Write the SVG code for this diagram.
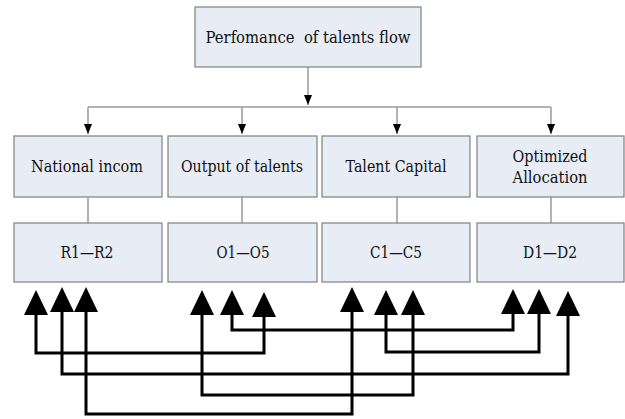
<svg xmlns="http://www.w3.org/2000/svg" width="625" height="419" viewBox="0 0 625 419">
<style>
.box{fill:#E8ECF5;stroke:#808080;stroke-width:1.2}
text{font-family:'DejaVu Serif','Liberation Serif',serif;font-size:16px;fill:#111;text-anchor:middle}
.thin{fill:none;stroke:#9a9a9a;stroke-width:1.5}
.big{fill:none;stroke:#000;stroke-width:3;stroke-linejoin:miter}
</style>
<defs>
<marker id="sm" viewBox="0 0 10 8" refX="10" refY="4" markerWidth="10" markerHeight="8" markerUnits="userSpaceOnUse" orient="auto">
<path d="M0,0 L10,4 L0,8 z" fill="#000"/>
</marker>
<marker id="bg" viewBox="0 0 25 24" refX="0" refY="12" markerWidth="25" markerHeight="24" markerUnits="userSpaceOnUse" orient="auto-start-reverse">
<path d="M0,0 L25,12 L0,24 z" fill="#000"/>
</marker>
</defs>
<g id="connectors">
<path class="thin" d="M308,67 V105" marker-end="url(#sm)"/>
<path class="thin" d="M88,107 H551"/>
<path class="thin" d="M88,107 V134" marker-end="url(#sm)"/>
<path class="thin" d="M242,107 V134" marker-end="url(#sm)"/>
<path class="thin" d="M397,107 V134" marker-end="url(#sm)"/>
<path class="thin" d="M551,107 V134" marker-end="url(#sm)"/>
<path class="thin" d="M88,197 V223"/>
<path class="thin" d="M242,197 V223"/>
<path class="thin" d="M397,197 V223"/>
<path class="thin" d="M551,197 V223"/>
<path class="big" d="M232,315 V330 H513 V314" marker-start="url(#bg)" marker-end="url(#bg)"/>
<path class="big" d="M36,315 V353 H264 V317" marker-start="url(#bg)" marker-end="url(#bg)"/>
<path class="big" d="M386,315 V352 H539 V314" marker-start="url(#bg)" marker-end="url(#bg)"/>
<path class="big" d="M62,312 V374 H568 V316" marker-start="url(#bg)" marker-end="url(#bg)"/>
<path class="big" d="M202,315 V395 H413 V315" marker-start="url(#bg)" marker-end="url(#bg)"/>
<path class="big" d="M86,312 V414 H352 V312" marker-start="url(#bg)" marker-end="url(#bg)"/>
</g>
<g id="top"><rect class="box" x="195" y="7" width="226" height="60"/><text x="308" y="43" textLength="205" lengthAdjust="spacingAndGlyphs">Perfomance&#160; of talents flow</text></g>
<g id="n1"><rect class="box" x="14" y="136" width="148" height="61"/><text x="87" y="172" textLength="112" lengthAdjust="spacingAndGlyphs">National incom</text></g>
<g id="n2"><rect class="box" x="168" y="136" width="149" height="61"/><text x="242" y="172" textLength="122" lengthAdjust="spacingAndGlyphs">Output of talents</text></g>
<g id="n3"><rect class="box" x="322" y="136" width="148" height="61"/><text x="396" y="172" textLength="101" lengthAdjust="spacingAndGlyphs">Talent Capital</text></g>
<g id="n4"><rect class="box" x="477" y="136" width="147" height="61"/><text x="550" y="162" textLength="75" lengthAdjust="spacingAndGlyphs">Optimized</text><text x="550" y="183" textLength="75" lengthAdjust="spacingAndGlyphs">Allocation</text></g>
<g id="r1"><rect class="box" x="14" y="223" width="148" height="59"/><text x="87" y="258" textLength="53" lengthAdjust="spacingAndGlyphs">R1—R2</text></g>
<g id="r2"><rect class="box" x="168" y="223" width="149" height="59"/><text x="243" y="258" textLength="53" lengthAdjust="spacingAndGlyphs">O1—O5</text></g>
<g id="r3"><rect class="box" x="322" y="223" width="148" height="59"/><text x="396" y="258" textLength="52" lengthAdjust="spacingAndGlyphs">C1—C5</text></g>
<g id="r4"><rect class="box" x="477" y="223" width="147" height="59"/><text x="550" y="258" textLength="54" lengthAdjust="spacingAndGlyphs">D1—D2</text></g>
</svg>
